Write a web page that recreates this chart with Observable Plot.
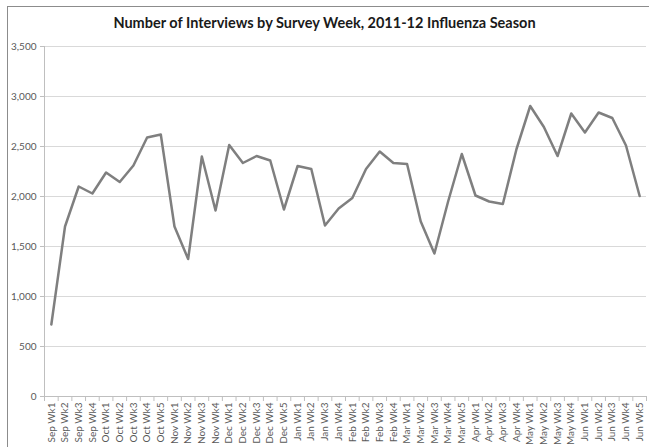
<!DOCTYPE html>
<html>
<head>
<meta charset="utf-8">
<script src="https://cdn.jsdelivr.net/npm/d3@7"></script>
<script src="https://cdn.jsdelivr.net/npm/@observablehq/plot@0.6"></script>
<style>
  body { margin: 0; background: white; }
  #wrap { position: relative; width: 649px; height: 447px; overflow: hidden; background: white; }
  #frame { position: absolute; left: 7px; top: 6px; width: 700px; height: 500px; border: 1px solid #8c8c8c; box-sizing: border-box; pointer-events: none; }
  #title { height: 36px; line-height: 36px; padding-top: 5px; box-sizing: border-box; text-align: center; font-family: Lato, "Open Sans", sans-serif; font-weight: bold; font-size: 14.5px; color: #1a1a1a; }
  #chart svg { display: block; }
</style>
</head>
<body>
<div id="wrap">
  <div id="title">Number of Interviews by Survey Week, 2011-12 Influenza Season</div>
  <div id="chart"></div>
  <div id="frame"></div>
</div>
<script>
const weeks = [
  "Sep Wk1","Sep Wk2","Sep Wk3","Sep Wk4",
  "Oct Wk1","Oct Wk2","Oct Wk3","Oct Wk4","Oct Wk5",
  "Nov Wk1","Nov Wk2","Nov Wk3","Nov Wk4",
  "Dec Wk1","Dec Wk2","Dec Wk3","Dec Wk4","Dec Wk5",
  "Jan Wk1","Jan Wk2","Jan Wk3","Jan Wk4",
  "Feb Wk1","Feb Wk2","Feb Wk3","Feb Wk4",
  "Mar Wk1","Mar Wk2","Mar Wk3","Mar Wk4","Mar Wk5",
  "Apr Wk1","Apr Wk2","Apr Wk3","Apr Wk4",
  "May Wk1","May Wk2","May Wk3","May Wk4",
  "Jun Wk1","Jun Wk2","Jun Wk3","Jun Wk4","Jun Wk5"
];
const interviews = [
  720, 1700, 2100, 2030,
  2240, 2145, 2310, 2590, 2620,
  1700, 1375, 2400, 1860,
  2515, 2335, 2405, 2360, 1870,
  2305, 2275, 1710, 1880,
  1985, 2275, 2450, 2335,
  2325, 1750, 1430, 1950, 2425,
  2010, 1950, 1925, 2475,
  2905, 2695, 2405, 2830,
  2640, 2840, 2785, 2510, 2005
];
const yTicks = [0, 500, 1000, 1500, 2000, 2500, 3000, 3500];

const data = weeks.map((w, i) => ({idx: i, week: w, n: interviews[i]}));
const centers = weeks.map((w, i) => i);
const bounds = [...centers, weeks.length].map(i => i - 0.5);

const chart = Plot.plot({
  width: 649,
  height: 411,
  marginTop: 10,
  marginBottom: 51,
  marginLeft: 44,
  marginRight: 3,
  style: {fontFamily: "Lato, 'Open Sans', sans-serif", fontSize: "10px", color: "#595959", background: "white"},
  x: {type: "linear", domain: [-0.5, weeks.length - 0.5], label: null},
  y: {domain: [0, 3500], label: null},
  marks: [
    Plot.gridY(yTicks, {stroke: "#d9d9d9", strokeOpacity: 1}),
    Plot.ruleX([-0.5], {stroke: "#bfbfbf"}),
    Plot.ruleY([0], {stroke: "#bfbfbf"}),
    Plot.axisY({ticks: yTicks, tickFormat: d3.format(","), tickSize: 4, tickPadding: 4, stroke: "#bfbfbf", fill: "#595959", label: null}),
    Plot.axisX({ticks: bounds, tickSize: 5, tickFormat: () => "", stroke: "#bfbfbf", label: null}),
    Plot.axisX({ticks: centers, tickSize: 0, tickPadding: 6, tickRotate: -90, tickFormat: i => weeks[i], fill: "#595959", label: null}),
    Plot.lineY(data, {x: "idx", y: "n", stroke: "#7f7f7f", strokeWidth: 2.5})
  ]
});
document.getElementById("chart").appendChild(chart);
</script>
</body>
</html>
